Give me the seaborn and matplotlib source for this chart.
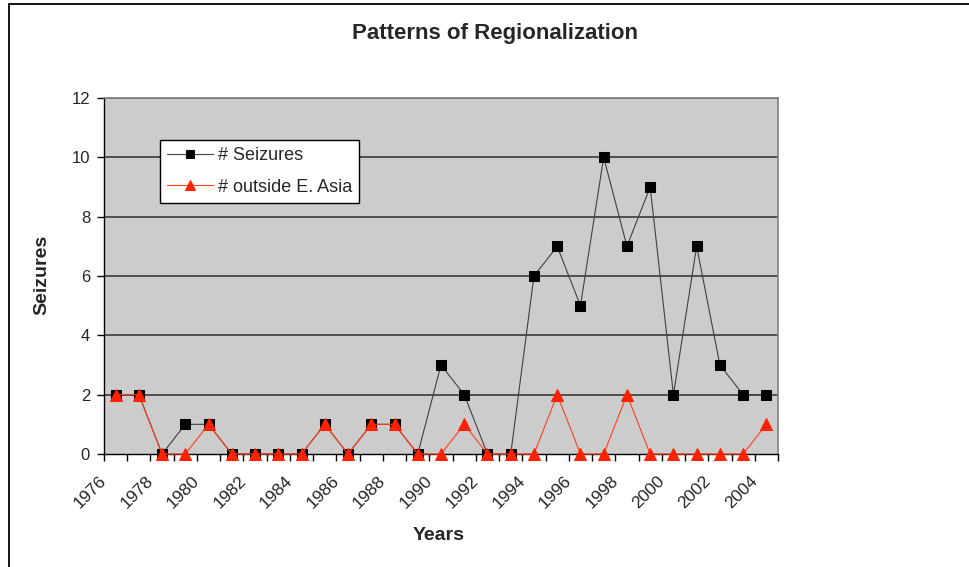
import matplotlib
matplotlib.use("Agg")
import matplotlib.pyplot as plt
import matplotlib.transforms as mtransforms
from matplotlib.lines import Line2D
import seaborn as sns
import pandas as pd
import numpy as np

years = list(range(1976, 2005))
seizures = [2, 2, 0, 1, 1, 0, 0, 0, 0, 1, 0, 1, 1, 0, 3, 2, 0, 0, 6, 7, 5, 10, 7, 9, 2, 7, 3, 2, 2]
outside = [2, 2, 0, 0, 1, 0, 0, 0, 0, 1, 0, 1, 1, 0, 0, 1, 0, 0, 0, 2, 0, 0, 2, 0, 0, 0, 0, 0, 1]
year_labels = [str(y) for y in range(1976, 2005, 2)]
y_ticks = [0, 2, 4, 6, 8, 10, 12]

sns.set_theme(style="white")
plt.rcParams['font.family'] = ['Liberation Sans', 'DejaVu Sans']

df = pd.DataFrame({"idx": np.arange(len(years)), "year": years,
                   "seizures": seizures, "outside": outside})

fig = plt.figure(figsize=(9.7, 5.67), dpi=100)
W, H = 970, 567
ax = fig.add_axes([104 / W, 1 - 454 / H, (778 - 104) / W, (454 - 98) / H])
ax.set_facecolor("#CCCCCC")

# figure border
fig.add_artist(Line2D([9 / W, 9 / W], [0, 1 - 4 / H], color="black", lw=1.3, transform=fig.transFigure))
fig.add_artist(Line2D([9 / W, 1], [1 - 4 / H, 1 - 4 / H], color="black", lw=1.3, transform=fig.transFigure))

for y in y_ticks[1:]:
    ax.axhline(y, color="#3a3a3a", lw=1.2, zorder=1)

sns.lineplot(data=df, x="idx", y="seizures", ax=ax, color="#404040", lw=0.8,
             marker="s", markersize=6.5, markerfacecolor="black", markeredgecolor="black",
             label="# Seizures", zorder=3, clip_on=False)
sns.lineplot(data=df, x="idx", y="outside", ax=ax, color="#FF4020", lw=0.8,
             marker="^", markersize=9, markerfacecolor="#FF2200", markeredgecolor="#FF2200",
             label="# outside E. Asia", zorder=4, clip_on=False)

n = len(years)
ax.set_xlim(-0.5, n - 0.5)
ax.set_ylim(0, 12)
ax.set_yticks(y_ticks)
ax.set_yticklabels([str(v) for v in y_ticks], fontsize=12)

bounds = np.arange(n + 1) - 0.5
ax.set_xticks(bounds)
lbls = []
j = 0
for k in range(n + 1):
    if k % 2 == 0 and j < len(year_labels):
        lbls.append(year_labels[j]); j += 1
    else:
        lbls.append("")
ax.set_xticklabels(lbls, fontsize=12.5, rotation=45, ha="right", rotation_mode="anchor")
ax.tick_params(axis="x", direction="out", length=5, width=1, color="black", pad=9, bottom=True)
ax.tick_params(axis="y", direction="out", length=5, width=1, color="black", pad=5, left=True)
offset = mtransforms.ScaledTranslation(-5 / 100, 0, fig.dpi_scale_trans)
for lab in ax.get_xticklabels():
    lab.set_transform(lab.get_transform() + offset)

for side in ["top", "right"]:
    ax.spines[side].set_color("#808080")
    ax.spines[side].set_linewidth(1.2)
for side in ["left", "bottom"]:
    ax.spines[side].set_color("black")
    ax.spines[side].set_linewidth(1.0)

ax.set_xlabel("")
ax.set_ylabel("")
fig.text(495 / W, 1 - 33 / H, "Patterns of Regionalization", ha="center", va="center",
         fontsize=16, fontweight="bold")
fig.text(439 / W, 1 - 535 / H, "Years", ha="center", va="center", fontsize=14, fontweight="bold")
fig.text(42 / W, 1 - 275 / H, "Seizures", ha="center", va="center", fontsize=14,
         fontweight="bold", rotation=90)

leg = ax.legend(loc="upper left", bbox_to_anchor=((160 - 104) / 674, (454 - 140) / 356),
                fontsize=13, frameon=True, fancybox=False, framealpha=1, edgecolor="black",
                handlelength=2.55, handletextpad=0.25, labelspacing=0.8, borderpad=0.4,
                borderaxespad=0)
leg.get_frame().set_linewidth(1.0)
leg.get_frame().set_facecolor("white")
for h, ms in zip(leg.legend_handles, [5.5, 7.5]):
    h.set_markersize(ms)

fig.savefig("out.png", dpi=100)
